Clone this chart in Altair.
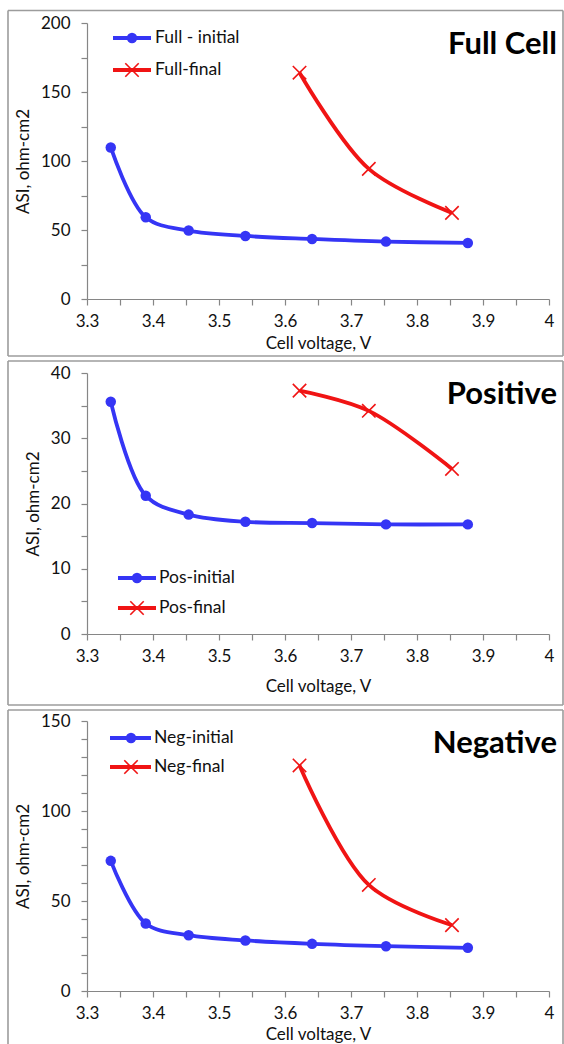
import altair as alt
import pandas as pd

# Cell voltage (V) at each measurement, shared by all three panels
V_INITIAL = [3.336, 3.389, 3.454, 3.540, 3.641, 3.753, 3.877]
V_FINAL = [3.622, 3.727, 3.853]

# Area-specific impedance (ohm-cm2)
FULL_INITIAL = [109.8, 59.2, 49.6, 45.7, 43.5, 41.6, 40.6]
FULL_FINAL = [164.0, 94.3, 62.4]
POS_INITIAL = [35.6, 21.2, 18.3, 17.2, 17.0, 16.8, 16.8]
POS_FINAL = [37.3, 34.2, 25.3]
NEG_INITIAL = [72.3, 37.5, 31.0, 28.1, 26.2, 24.9, 24.0]
NEG_FINAL = [125.3, 58.9, 36.6]

X_TICKS = [round(3.3 + 0.05 * i, 2) for i in range(15)]

BLUE = "#3535f5"
RED = "#f01414"
AXIS_GREY = "#868686"
FRAME_GREY = "#9c9c9c"
FONT = "Lato"
X_PATH = "M-1,-1L1,1M-1,1L1,-1"

PLOT_W = 462
ONE = pd.DataFrame({"k": [0]})


def frame(x1, x2, y1, y2, bottom=True):
    base = alt.Chart(ONE)
    mk = dict(color=FRAME_GREY, strokeWidth=1.6)
    parts = [
        base.mark_rule(**mk).encode(x=alt.value(x1), y=alt.value(y1), y2=alt.value(y2)),
        base.mark_rule(**mk).encode(x=alt.value(x2), y=alt.value(y1), y2=alt.value(y2)),
        base.mark_rule(**mk).encode(x=alt.value(x1), x2=alt.value(x2), y=alt.value(y1)),
    ]
    if bottom:
        parts.append(
            base.mark_rule(**mk).encode(x=alt.value(x1), x2=alt.value(x2), y=alt.value(y2))
        )
    return parts


def legend_item(x1, x2, y, mx, tx, label, color, marker):
    base = alt.Chart(ONE)
    if marker == "circle":
        pt = base.mark_point(shape="circle", filled=True, size=110, color=color, opacity=1)
    else:
        pt = base.mark_point(shape=X_PATH, filled=False, size=180, color=color,
                             strokeWidth=1.6, opacity=1)
    return [
        base.mark_rule(color=color, strokeWidth=3.8).encode(
            x=alt.value(x1), x2=alt.value(x2), y=alt.value(y)),
        pt.encode(x=alt.value(mx), y=alt.value(y)),
        base.mark_text(align="left", baseline="middle", fontSize=17.5, font=FONT,
                       color="#111111").encode(
            x=alt.value(tx), y=alt.value(y), text=alt.value(label)),
    ]


def panel(title, init_vals, final_vals, names, ymax, ystep, ylab_step, height,
          leg, frame_box, title_y, xtitle_pad, bottom=True):
    init_df = pd.DataFrame({"v": V_INITIAL, "asi": init_vals})
    final_df = pd.DataFrame({"v": V_FINAL, "asi": final_vals})

    x_enc = alt.X(
        "v:Q",
        scale=alt.Scale(domain=[3.3, 4.0], nice=False, zero=False),
        axis=alt.Axis(
            values=X_TICKS,
            labelExpr="round(datum.value * 100) % 10 == 0 ? format(datum.value, '.1~f') : ''",
            title="Cell voltage, V", grid=False, tickSize=6, labelPadding=8,
            titlePadding=xtitle_pad, labelOverlap=False, labelFlush=False,
        ),
    )
    y_enc = alt.Y(
        "asi:Q",
        scale=alt.Scale(domain=[0, ymax], nice=False),
        axis=alt.Axis(
            values=list(range(0, ymax + 1, ystep)),
            labelExpr=f"datum.value % {ylab_step} == 0 ? datum.label : ''",
            title="ASI, ohm-cm2", grid=False, tickSize=6, labelPadding=11,
            titlePadding=8, labelOverlap=False, labelFlush=False,
        ),
    )

    layers = frame(*frame_box, bottom=bottom)
    layers += [
        alt.Chart(init_df).mark_line(color=BLUE, strokeWidth=3.8,
                                     interpolate="catmull-rom").encode(x=x_enc, y=y_enc),
        alt.Chart(init_df).mark_point(shape="circle", filled=True, size=110, color=BLUE,
                                      opacity=1).encode(x=x_enc, y=y_enc),
        alt.Chart(final_df).mark_line(color=RED, strokeWidth=3.8,
                                      interpolate="catmull-rom").encode(x=x_enc, y=y_enc),
        alt.Chart(final_df).mark_point(shape=X_PATH, filled=False, size=180, color=RED,
                                       strokeWidth=1.6, opacity=1).encode(x=x_enc, y=y_enc),
    ]
    lx1, lx2, ly1, ly2, mx, tx = leg
    layers += legend_item(lx1, lx2, ly1, mx, tx, names[0], BLUE, "circle")
    layers += legend_item(lx1, lx2, ly2, mx, tx, names[1], RED, "x")
    layers.append(
        alt.Chart(ONE).mark_text(align="right", baseline="middle", fontSize=31,
                                 fontWeight="bold", font=FONT, color="#000000").encode(
            x=alt.value(470), y=alt.value(title_y), text=alt.value(title))
    )
    return alt.layer(*layers).properties(width=PLOT_W, height=height)


full = panel("Full Cell", FULL_INITIAL, FULL_FINAL, ["Full - initial", "Full-final"],
             200, 25, 50, 276, (26, 64, 15, 47, 45, 68), (-79, 476, -12.5, 333), 22, 6)
pos = panel("Positive", POS_INITIAL, POS_FINAL, ["Pos-initial", "Pos-final"],
            40, 5, 10, 261, (31, 69, 205, 235, 50, 72), (-79, 476, -12, 332), 22, 14)
neg = panel("Negative", NEG_INITIAL, NEG_FINAL, ["Neg-initial", "Neg-final"],
            150, 10, 50, 270, (23, 64, 17, 46, 44, 67), (-79, 476, -11, 326), 23, 5,
            bottom=False)

chart = (
    alt.vconcat(full, pos, neg, spacing=3)
    .properties(padding={"left": 7, "top": 9, "right": 0, "bottom": 0}, background="white")
    .configure_view(strokeWidth=0)
    .configure_axis(
        labelFont=FONT, titleFont=FONT, labelFontSize=17, titleFontSize=17,
        titleFontWeight="normal", labelColor="#111111", titleColor="#111111",
        domainColor=AXIS_GREY, tickColor=AXIS_GREY, domainWidth=1.2, tickWidth=1.2,
    )
)

chart.save("out.html", embed_options={"renderer": "svg", "actions": False})
